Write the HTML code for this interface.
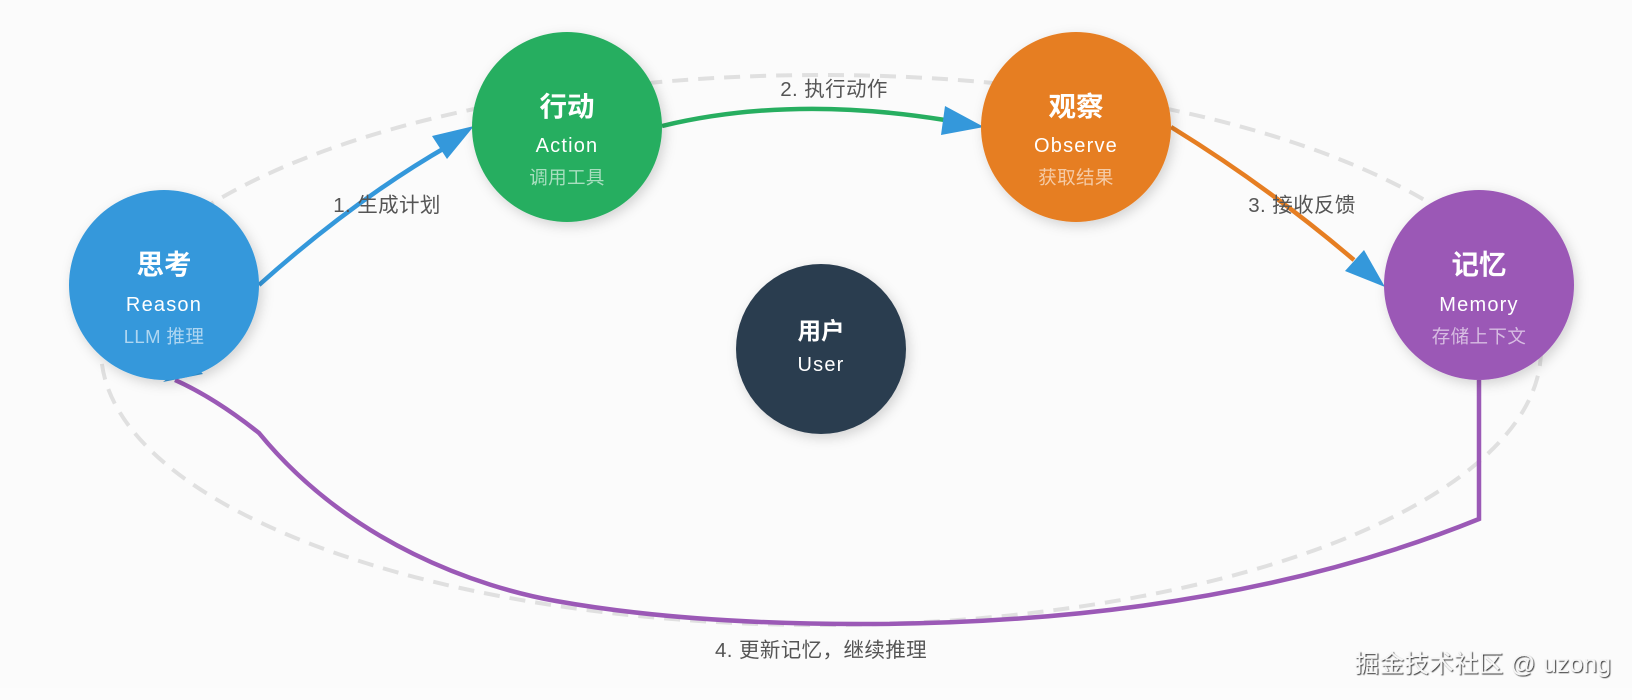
<!DOCTYPE html>
<html lang="zh">
<head>
<meta charset="utf-8">
<style>
html,body{margin:0;padding:0;width:1632px;height:700px;background:#fbfbfb;overflow:hidden}
svg{display:block}
text{font-family:"Liberation Sans","Noto Sans CJK SC",sans-serif;text-anchor:middle}
.t{font-size:27.5px;font-weight:700;fill:#fff}
.e{font-size:20px;fill:#fff;letter-spacing:1.2px}
.s{font-size:18.5px;fill:#fff;fill-opacity:.6;letter-spacing:.4px}
.l{font-size:20.5px;fill:#555;letter-spacing:.4px}
</style>
</head>
<body>
<svg width="1632" height="700" viewBox="0 0 1632 700" xmlns="http://www.w3.org/2000/svg">
<defs>
<filter id="sh" x="-30%" y="-30%" width="160%" height="160%">
<feDropShadow dx="3" dy="4" stdDeviation="6" flood-color="#000" flood-opacity=".16"/>
</filter>
<filter id="ws" x="-5%" y="-20%" width="110%" height="140%">
<feDropShadow dx="1" dy="1" stdDeviation=".6" flood-color="#000" flood-opacity=".8"/>
</filter>
</defs>
<rect x="0" y="688" width="1632" height="12" fill="#fcfcfc"/>

<ellipse cx="821" cy="350" rx="720" ry="275" fill="none" stroke="#e0e0e0" stroke-width="4" stroke-dasharray="16 10"/>

<path d="M259,285 Q354,200 448,146" fill="none" stroke="#3498db" stroke-width="4.5"/>
<polygon points="474,126 432,136 447,159" fill="#3498db"/>

<path d="M662,126 Q790,95 945,120" fill="none" stroke="#27ae60" stroke-width="4.5"/>
<polygon points="984,127 945,106 941,135" fill="#3498db"/>

<path d="M1171,127 Q1267,186 1354,260" fill="none" stroke="#e67e22" stroke-width="4.5"/>
<polygon points="1385,287 1364,250 1345,271" fill="#3498db"/>

<path d="M1479,380 L1479,519 C1279,600 1060,624 860,624 C740,624 640,616 556,601 C480,587.4 351,545 259,433 Q215,398 175,380" fill="none" stroke="#9b59b6" stroke-width="4.5"/>
<polygon points="163,382 203,374 190,360" fill="#3498db"/>

<text class="l" x="387" y="212">1. 生成计划</text>
<text class="l" x="834" y="96">2. 执行动作</text>
<text class="l" x="1302" y="212">3. 接收反馈</text>
<text class="l" x="821" y="657">4. 更新记忆，继续推理</text>

<circle cx="164" cy="285" r="95" fill="#3498db" filter="url(#sh)"/>
<text class="t" x="164" y="274">思考</text>
<text class="e" x="164" y="311">Reason</text>
<text class="s" x="164" y="343">LLM 推理</text>

<circle cx="567" cy="127" r="95" fill="#27ae60" filter="url(#sh)"/>
<text class="t" x="567" y="116">行动</text>
<text class="e" x="567" y="152">Action</text>
<text class="s" x="567" y="184">调用工具</text>

<circle cx="1076" cy="127" r="95" fill="#e67e22" filter="url(#sh)"/>
<text class="t" x="1076" y="116">观察</text>
<text class="e" x="1076" y="152">Observe</text>
<text class="s" x="1076" y="184">获取结果</text>

<circle cx="1479" cy="285" r="95" fill="#9b59b6" filter="url(#sh)"/>
<text class="t" x="1479" y="274">记忆</text>
<text class="e" x="1479" y="311">Memory</text>
<text class="s" x="1479" y="343">存储上下文</text>

<circle cx="821" cy="349" r="85" fill="#2c3e50" filter="url(#sh)"/>
<text x="821" y="339" style="font-size:23.5px;font-weight:700;fill:#fff">用户</text>
<text class="e" x="821" y="371">User</text>

<text x="1483" y="672" filter="url(#ws)" style="font-size:24.5px;fill:#f6f6f6;letter-spacing:.3px">掘金技术社区 @ uzong</text>
</svg>
</body>
</html>
